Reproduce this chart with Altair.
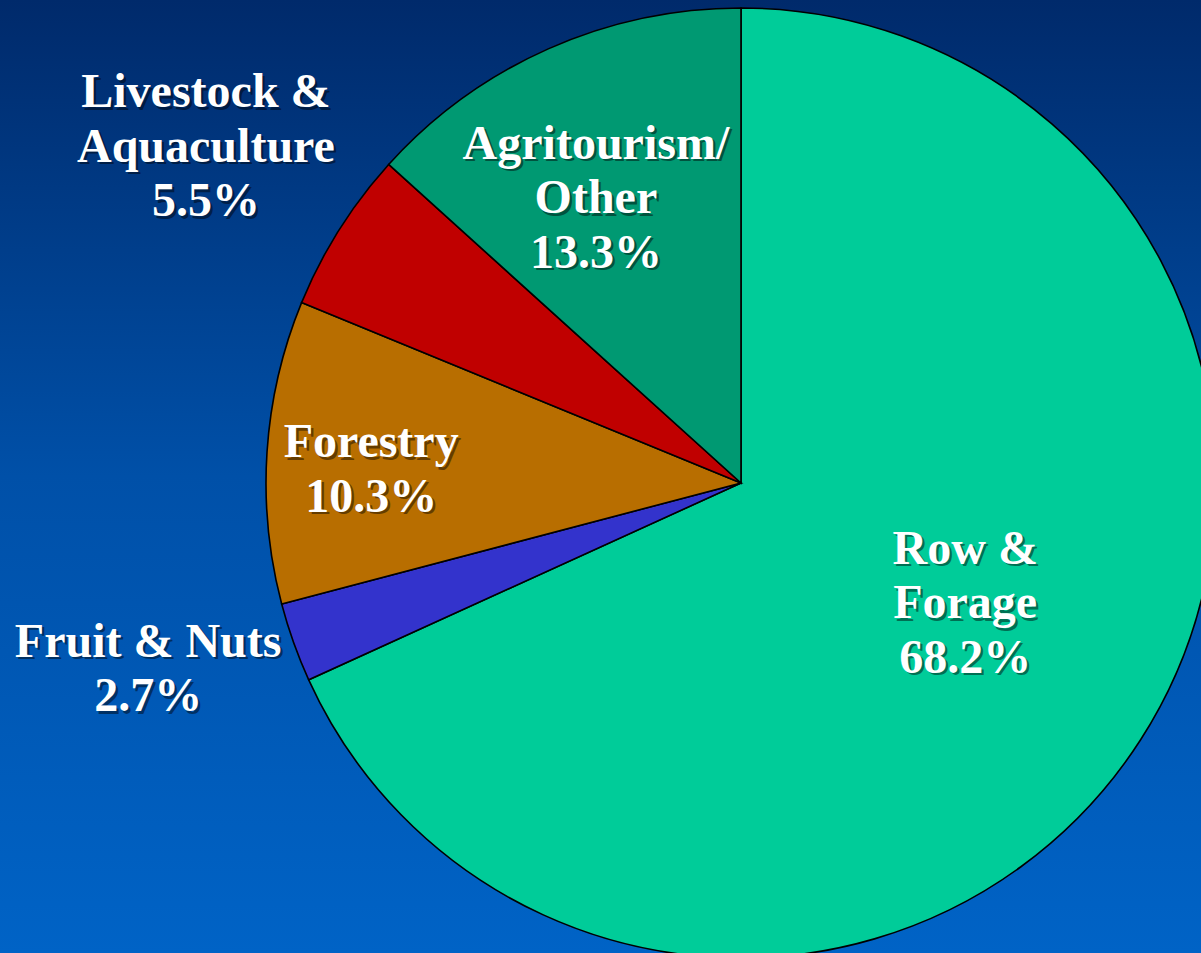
import math
import altair as alt
import pandas as pd

# ---- data ----
categories = ["Row & Forage", "Fruit & Nuts", "Forestry", "Livestock & Aquaculture", "Agritourism/Other"]
shares = [68.2, 2.7, 10.3, 5.5, 13.3]
label_lines = [
    "Row &\nForage\n68.2%",
    "Fruit & Nuts\n2.7%",
    "Forestry\n10.3%",
    "Livestock &\nAquaculture\n5.5%",
    "Agritourism/\nOther\n13.3%",
]
colors = ["#00CC99", "#3333CC", "#B86E00", "#C00000", "#009972"]

# ---- layout (not data) ----
W, H = 1201, 953
CX, CY, R = 741, 483, 475
# anchor of each label's first line: angle (percent of circle, clockwise from 12 o'clock) and distance from centre
label_angle = [29.62, 70.81, 76.71, 85.02, 93.55]
label_radius = [234, 614, 372, 662, 368]

df = pd.DataFrame({"category": categories, "share": shares, "order": list(range(len(categories)))})
lab = pd.DataFrame({"category": categories, "text": label_lines, "pos": label_angle, "r": label_radius})

theta_scale = alt.Scale(domain=[0, 100], range=[0, 2 * math.pi])

bg = alt.Chart(alt.Data(values=[{"a": 1}])).mark_rect(
    fill=alt.Gradient(
        gradient="linear",
        stops=[
            alt.GradientStop(color="#002A6B", offset=0),
            alt.GradientStop(color="#0050A8", offset=0.5),
            alt.GradientStop(color="#0063C6", offset=1),
        ],
        x1=0, x2=0, y1=0, y2=1,
    ),
    stroke=None,
).encode(x=alt.value(0), x2=alt.value(W), y=alt.value(0), y2=alt.value(H))

pie = alt.Chart(df).mark_arc(outerRadius=R, stroke="black", strokeWidth=1.6).encode(
    theta=alt.Theta("share:Q", stack=True, scale=theta_scale),
    order=alt.Order("order:Q"),
    color=alt.Color("category:N", scale=alt.Scale(domain=categories, range=colors), legend=None),
    x=alt.value(CX),
    y=alt.value(CY),
)

text_props = dict(
    font="Liberation Serif",
    fontWeight="bold",
    fontSize=48,
    lineBreak="\n",
    lineHeight=54.5,
    align="center",
    baseline="middle",
)

def text_layer(color, dx, dy, opacity):
    return alt.Chart(lab).mark_text(color=color, dx=dx, dy=dy, opacity=opacity, **text_props).encode(
        theta=alt.Theta("pos:Q", stack=None, scale=theta_scale),
        radius=alt.Radius("r:Q", scale=None),
        text="text:N",
        x=alt.value(CX),
        y=alt.value(CY),
    )

shadow = text_layer("black", 2.5, 2.5, 0.45)
labels = text_layer("white", 0, 0, 1)

chart = alt.layer(bg, pie, shadow, labels).properties(
    width=W, height=H, padding=0, autosize=alt.AutoSizeParams(type="none")
).configure_view(stroke=None, clip=False).configure(background="#002A6B")

chart.save("out.html", embed_options={"renderer": "svg", "actions": False})
